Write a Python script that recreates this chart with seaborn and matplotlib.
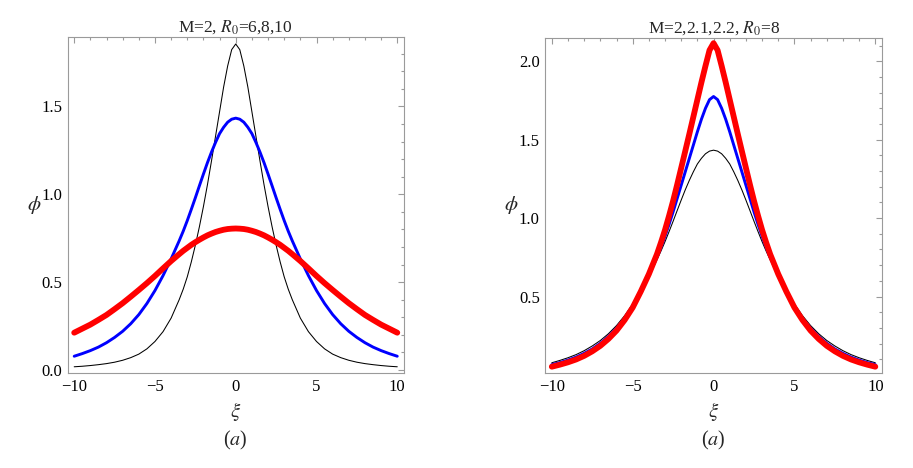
import numpy as np
import pandas as pd
import matplotlib
matplotlib.use("Agg")
import matplotlib.pyplot as plt
import seaborn as sns
from matplotlib.ticker import MultipleLocator, FormatStrFormatter

# ---------------------------------------------------------
# DATA (curves are symmetric in xi)
# ---------------------------------------------------------

xi_half = [0, 0.25, 0.5, 0.75, 1, 1.25, 1.5, 1.75, 2, 2.25, 2.5, 2.75, 3, 3.25,
           3.5, 4, 4.5, 5, 5.5, 6, 6.5, 7, 7.5, 8, 8.5, 9, 9.5, 10]

# left panel: M=2, R0 = 6, 8, 10
phi_r6 = [1.855, 1.823, 1.73, 1.61, 1.47, 1.33, 1.19, 1.055, 0.93, 0.815,
          0.71, 0.615, 0.53, 0.46, 0.40, 0.295, 0.218, 0.162, 0.12, 0.09,
          0.07, 0.055, 0.044, 0.036, 0.03, 0.025, 0.021, 0.018]
phi_r8 = [1.433, 1.427, 1.41, 1.381, 1.345, 1.295, 1.24, 1.18, 1.115, 1.048,
          0.98, 0.914, 0.85, 0.79, 0.735, 0.632, 0.537, 0.452, 0.378, 0.315,
          0.263, 0.22, 0.185, 0.155, 0.13, 0.11, 0.093, 0.078]
phi_r10 = [0.805, 0.804, 0.802, 0.798, 0.792, 0.785, 0.776, 0.766, 0.754, 0.741,
           0.727, 0.712, 0.695, 0.678, 0.659, 0.62, 0.578, 0.535, 0.494, 0.455,
           0.417, 0.38, 0.346, 0.313, 0.285, 0.258, 0.235, 0.212]

# right panel: R0 = 8, M = 2, 2.1, 2.2
phi_m20 = phi_r8
phi_m21 = [1.775, 1.755, 1.70, 1.63, 1.55, 1.465, 1.38, 1.295, 1.21, 1.125,
           1.04, 0.96, 0.885, 0.815, 0.75, 0.637, 0.535, 0.441, 0.36, 0.298,
           0.245, 0.202, 0.166, 0.138, 0.114, 0.095, 0.079, 0.066]
phi_m22 = [2.115, 2.07, 1.97, 1.865, 1.755, 1.645, 1.535, 1.427, 1.32, 1.213,
           1.11, 1.015, 0.925, 0.845, 0.77, 0.643, 0.532, 0.43, 0.35, 0.283,
           0.23, 0.186, 0.151, 0.122, 0.099, 0.081, 0.066, 0.053]

panel_titles = [r"M=2, $R_0$=6,8,10", r"M=2,2.1,2.2, $R_0$=8"]
panel_ylims = [(-0.019, 1.895), (0.011, 2.15)]
line_colors = ["black", "#0000ff", "#ff0000"]
line_widths = [0.75, 2.1, 4.2]


def mirror(vals):
    vals = np.asarray(vals, dtype=float)
    return np.concatenate([vals[:0:-1], vals])


xs = np.asarray(xi_half, dtype=float)
xi = np.concatenate([-xs[:0:-1], xs])

# ---------------------------------------------------------
# STYLE
# ---------------------------------------------------------

sns.set_theme(style="white")
plt.rcParams["font.family"] = ["Liberation Serif", "DejaVu Serif"]
plt.rcParams["mathtext.fontset"] = "stix"
plt.rcParams["axes.unicode_minus"] = True

frame_gray = "#9a9a9a"

fig = plt.figure(figsize=(9.13, 4.68), dpi=100)
ax_l = fig.add_axes([0.0742, 0.2024, 0.368, 0.7186])
ax_r = fig.add_axes([0.5973, 0.2024, 0.3685, 0.7171])

panels = [
    (ax_l, [phi_r6, phi_r8, phi_r10]),
    (ax_r, [phi_m20, phi_m21, phi_m22]),
]

for i, (ax, curves) in enumerate(panels):
    for vals, c, lw in zip(curves, line_colors, line_widths):
        df = pd.DataFrame({"xi": xi, "phi": mirror(vals)})
        sns.lineplot(data=df, x="xi", y="phi", ax=ax, color=c, linewidth=lw,
                     sort=False, estimator=None)

    ax.set_xlim(-10.4, 10.4)
    ax.set_ylim(*panel_ylims[i])

    ax.xaxis.set_major_locator(MultipleLocator(5))
    ax.xaxis.set_minor_locator(MultipleLocator(1))
    ax.yaxis.set_major_locator(MultipleLocator(0.5))
    ax.yaxis.set_minor_locator(MultipleLocator(0.1))
    ax.yaxis.set_major_formatter(FormatStrFormatter("%.1f"))

    ax.tick_params(which="both", direction="in", top=True, right=True,
                   color=frame_gray, width=0.8, labelsize=12,
                   labelcolor="black", pad=4)
    ax.tick_params(which="major", length=4.5)
    ax.tick_params(which="minor", length=2.5)
    for sp in ax.spines.values():
        sp.set_color(frame_gray)
        sp.set_linewidth(0.8)

    ax.set_title(panel_titles[i], fontsize=12.5, pad=4)
    ax.set_xlabel(r"$\xi$", fontsize=15, va="center")
    ax.xaxis.set_label_coords(0.5, -0.115)
    ax.set_ylabel(r"$\phi$", fontsize=15, rotation=0, va="center")
    ax.yaxis.set_label_coords(-0.1, 0.5)
    ax.text(0.5, -0.2, r"($a$)", transform=ax.transAxes, ha="center",
            va="center", fontsize=14.5)

fig.savefig("out.png", dpi=100)
